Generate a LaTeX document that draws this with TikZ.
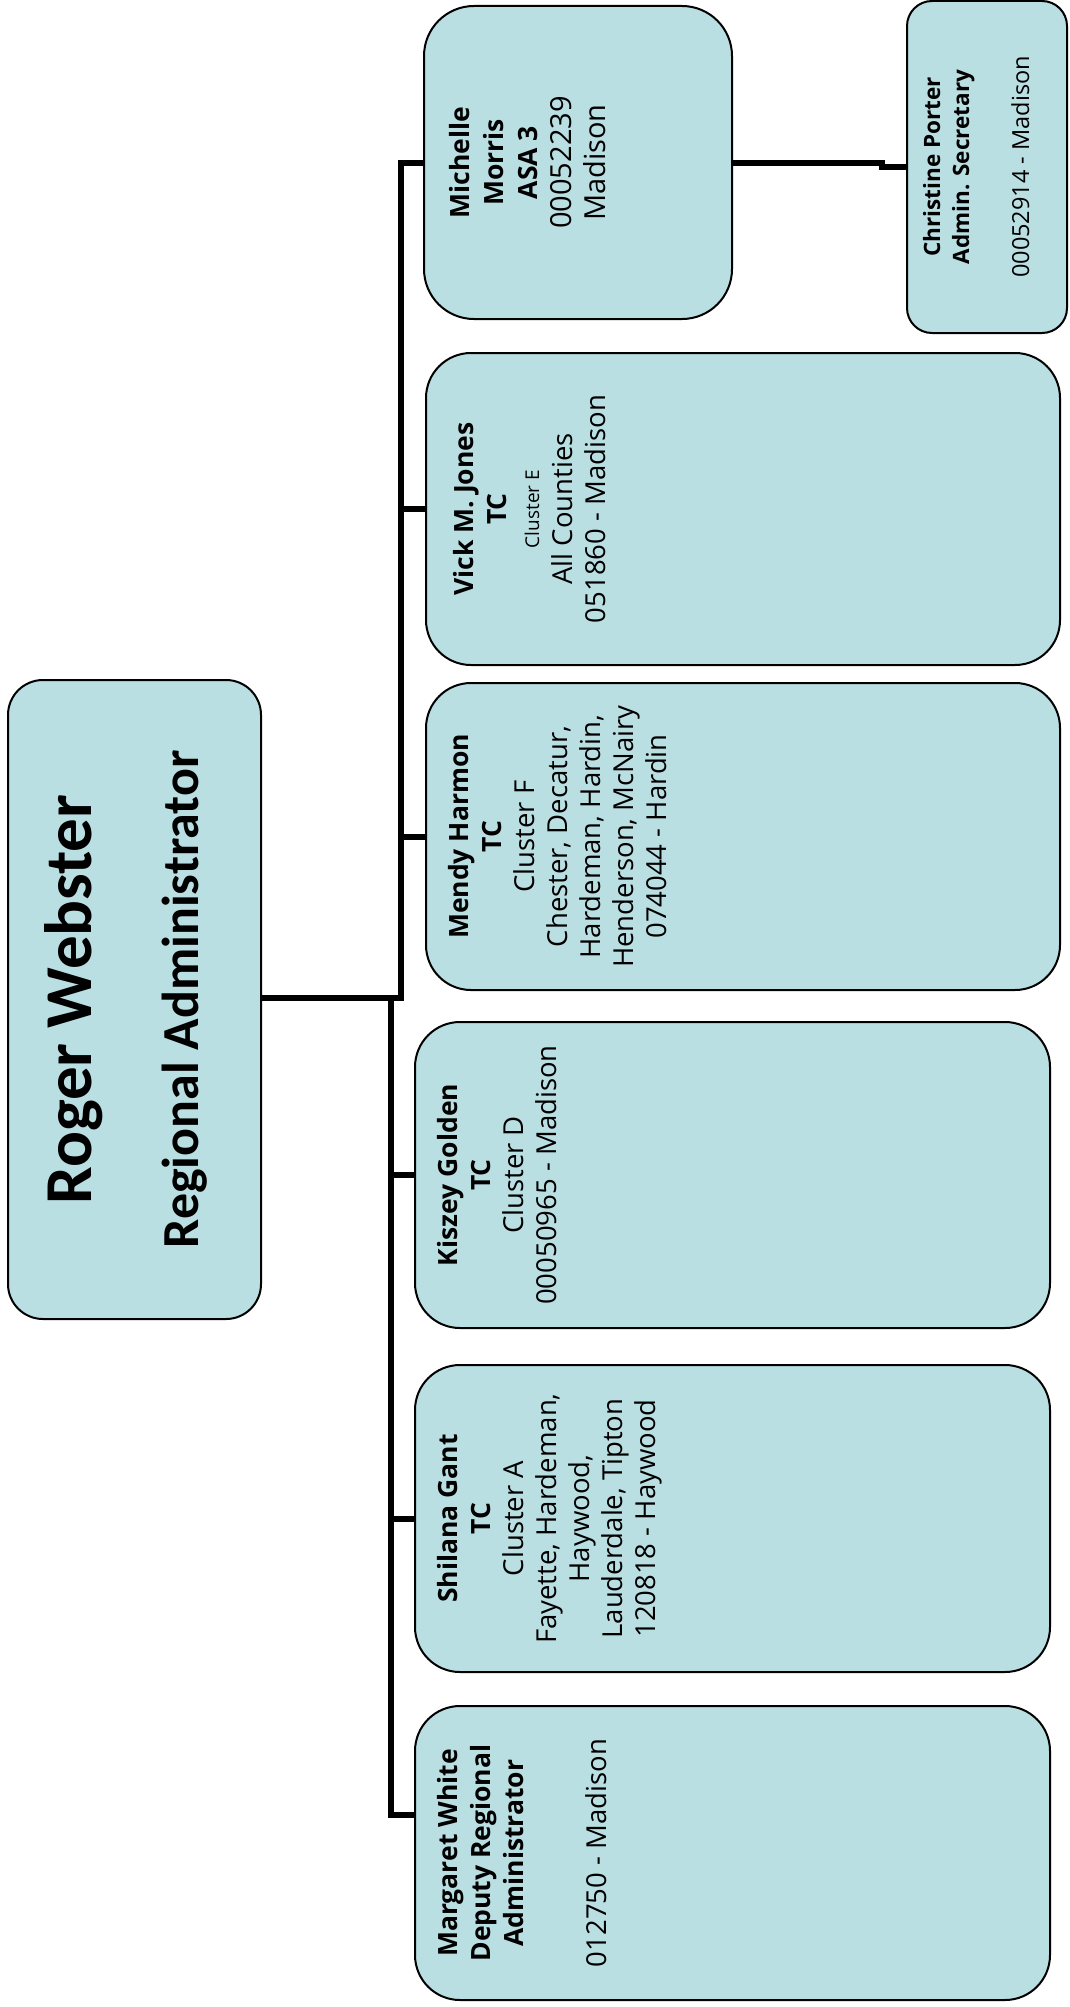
\documentclass[tikz,border=0pt]{standalone}
\usepackage{fontspec}
\setmainfont{Carlito}
\newfontfamily\cardfont{Open Sans}
\usepackage{graphicx}
\usepackage{tikz}
\definecolor{cardfill}{RGB}{186,223,227}
\newcommand{\vcard}[4]{\rotatebox{90}{\begin{minipage}[c][#2][t]{#1}\centering\vspace*{#3}#4\end{minipage}}}
\newcommand{\nm}[1]{{\fontsize{26.5}{33}\selectfont\bfseries #1}}
\tikzset{
	unit/.style={draw, fill=cardfill, line width=2pt, rounded corners=45pt,
		inner sep=0pt, outer sep=0pt, anchor=north west,
		font=\cardfont\fontsize{27.5}{33}\selectfont},
	link/.style={line width=6pt},
}
\begin{document}
\begin{tikzpicture}[x=1pt, y=-1pt]
	\useasboundingbox (0,0) rectangle (1069,2007);
	\node[unit, rounded corners=35pt, font=\rmfamily] at (8,680) (rw) {\vcard{639pt}{253pt}{36pt}{{\fontsize{67}{67}\selectfont\bfseries Roger Webster\par}{\fontsize{52}{107}\selectfont\bfseries Regional Administrator\par}}};
	\node[unit, rounded corners=50pt, font=\cardfont\fontsize{29}{34}\selectfont] at (424,6) (mm) {\vcard{313pt}{308pt}{25pt}{\nm{Michelle}\\\nm{Morris}\\\nm{ASA 3}\\00052239\\Madison}};
	\node[unit, rounded corners=25pt, font=\cardfont\fontsize{23.5}{29}\selectfont] at (907,1) (cp) {\vcard{332pt}{160pt}{16pt}{{\fontsize{22.5}{29}\selectfont\bfseries Christine Porter\\Admin. Secretary}\\[31pt]00052914 - Madison}};
	\node[unit] at (426,353) (vj) {\vcard{312pt}{634pt}{27pt}{\nm{Vick M. Jones}\\\nm{TC}\\{\fontsize{19}{33}\selectfont Cluster E}\\All Counties\\051860 - Madison}};
	\node[unit] at (426,683) (mh) {\vcard{307pt}{634pt}{22pt}{\nm{Mendy Harmon}\\\nm{TC}\\Cluster F\\Chester, Decatur,\\Hardeman, Hardin,\\Henderson, McNairy\\074044 - Hardin}};
	\node[unit] at (415,1022) (kg) {\vcard{306pt}{635pt}{22pt}{\nm{Kiszey Golden}\\\nm{TC}\\Cluster D\\00050965 - Madison}};
	\node[unit] at (415,1365) (sg) {\vcard{307pt}{635pt}{22pt}{\nm{Shilana Gant}\\\nm{TC}\\Cluster A\\Fayette, Hardeman,\\Haywood,\\Lauderdale, Tipton\\120818 - Haywood}};
	\node[unit] at (415,1706) (mw) {\vcard{294pt}{635pt}{22pt}{\nm{Margaret White}\\\nm{Deputy Regional}\\\nm{Administrator}\\[50pt]012750 - Madison}};
	\coordinate (ju) at (401,998);
	\coordinate (jl) at (391,998);
	\draw[link] (rw.east |- ju) -- (ju) |- (mm.west);
	\draw[link] (ju) |- (vj.west);
	\draw[link] (ju) |- (mh.west);
	\draw[link] (jl) |- (kg.west);
	\draw[link] (jl) |- (sg.west);
	\draw[link] (jl) |- ([yshift=38pt]mw.west);
	\draw[link] (mm.east) -- ++(150,0) |- (cp.west);
\end{tikzpicture}
\end{document}
